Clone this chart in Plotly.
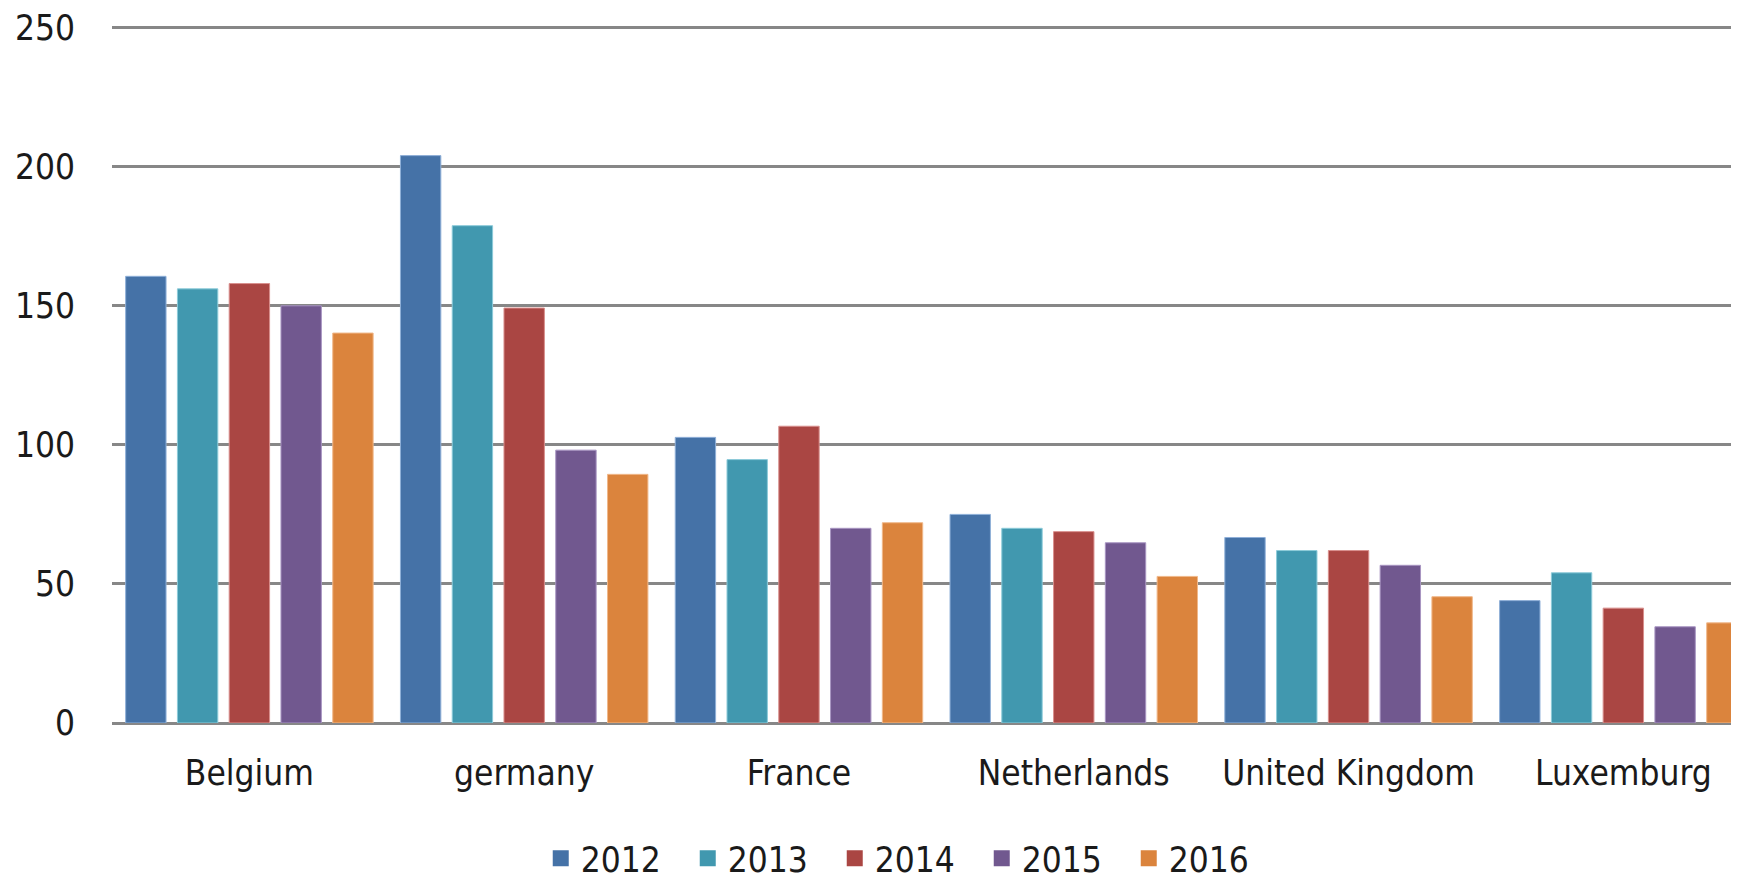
import plotly.graph_objects as go

countries = ["Belgium", "germany", "France", "Netherlands", "United Kingdom", "Luxemburg"]
years = ["2012", "2013", "2014", "2015", "2016"]
v2012 = [160.6, 204, 102.7, 75, 66.7, 44]
v2013 = [156.1, 178.8, 94.7, 70, 62, 54]
v2014 = [158, 149.2, 106.7, 68.8, 62, 41.3]
v2015 = [150, 98.1, 70, 64.8, 56.7, 34.6]
v2016 = [140.2, 89.4, 72, 52.7, 45.4, 36]
series = [v2012, v2013, v2014, v2015, v2016]
colors = ["#4572A7", "#4198AF", "#AA4643", "#71588F", "#DB843D"]
edges = ["#8fb0d8", "#8ccbd9", "#d98f8d", "#a895c2", "#f0b88a"]
yticks = [0, 50, 100, 150, 200, 250]

FONT = "DejaVu Sans Condensed, Liberation Sans Narrow, sans-serif"

fig = go.Figure()
for name, vals, c, e in zip(years, series, colors, edges):
    fig.add_trace(go.Bar(x=countries, y=vals, name=name, showlegend=False,
                         marker=dict(color=c, line=dict(color=e, width=1))))
# legend entries with larger square swatches
for name, c in zip(years, colors):
    fig.add_trace(go.Scatter(x=[None], y=[None], mode="markers", name=name,
                             marker=dict(symbol="square", size=24, color=c),
                             showlegend=True))

fig.update_layout(
    width=1739, height=880,
    margin=dict(l=104, r=0, t=18, b=139),
    paper_bgcolor="white", plot_bgcolor="white",
    barmode="group", bargap=0.058, bargroupgap=0.22,
    font=dict(family=FONT, size=35, color="#1a1a1a"),
    showlegend=True,
    legend=dict(orientation="h", x=0.487, xanchor="center", y=-0.152, yanchor="top",
                font=dict(size=35), itemwidth=30, entrywidth=102,
                traceorder="normal"),
    xaxis=dict(range=[-0.5, 5.45], showgrid=False, showline=False, ticks="",
               tickfont=dict(size=35), ticklabelstandoff=26, automargin=False),
    yaxis=dict(range=[0, 250.6], tickvals=yticks, showgrid=True, gridcolor="#878787",
               gridwidth=2.5, zeroline=True, zerolinecolor="#878787", zerolinewidth=3,
               showline=False, ticks="", ticklabelstandoff=36, tickfont=dict(size=35),
               ticklabeloverflow="allow", automargin=False),
)
fig.write_html("out.html")
